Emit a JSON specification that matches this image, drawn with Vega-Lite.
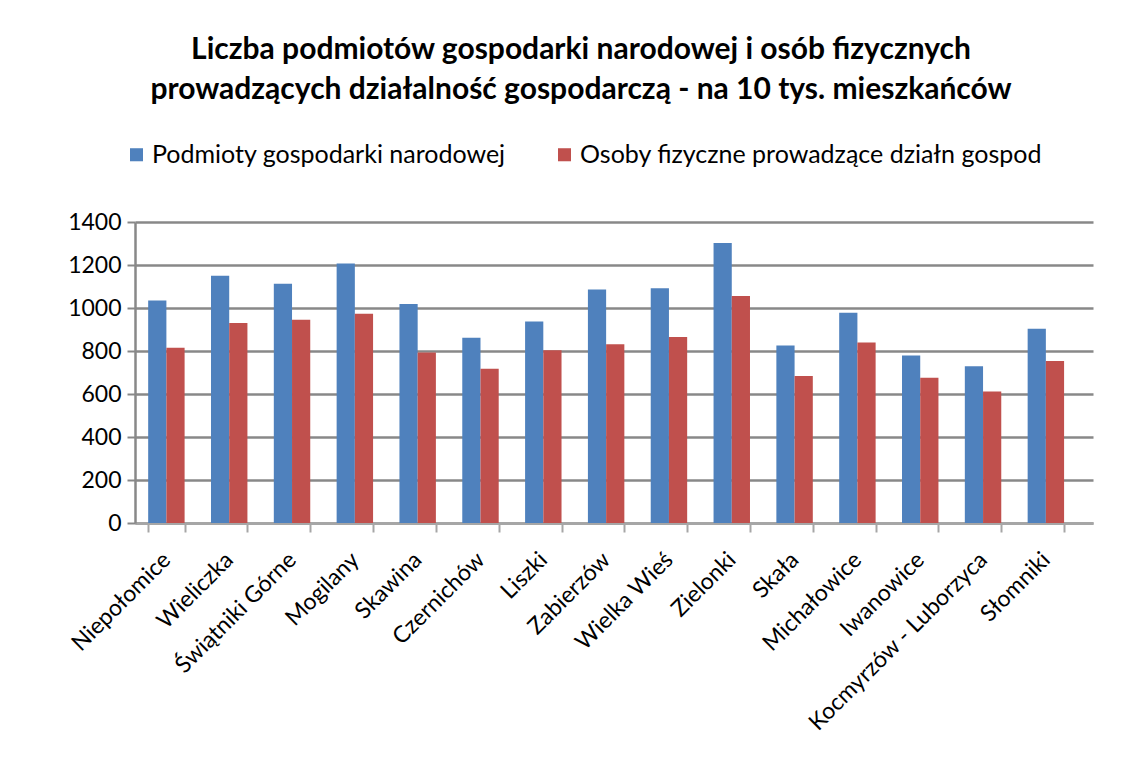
{
  "$schema": "https://vega.github.io/schema/vega-lite/v6.json",
  "autosize": "none",
  "padding": {"left": 135, "top": 222, "right": 49, "bottom": 237},
  "width": 958,
  "height": 301,
  "background": "white",
  "title": {
    "text": ["Liczba podmiotów gospodarki narodowej  i osób fizycznych", "prowadzących działalność gospodarczą - na 10 tys. mieszkańców"],
    "font": "Lato",
    "fontSize": 30,
    "fontWeight": "bold",
    "color": "#000000",
    "lineHeight": 40,
    "anchor": "middle",
    "frame": "group",
    "dx": -33,
    "offset": 37
  },
  "data": {
    "values": [
      {"gmina": "Niepołomice", "seria": "Podmioty gospodarki narodowej", "wartosc": 1035},
      {"gmina": "Niepołomice", "seria": "Osoby fizyczne prowadzące działn  gospod", "wartosc": 815},
      {"gmina": "Wieliczka", "seria": "Podmioty gospodarki narodowej", "wartosc": 1150},
      {"gmina": "Wieliczka", "seria": "Osoby fizyczne prowadzące działn  gospod", "wartosc": 930},
      {"gmina": "Świątniki Górne", "seria": "Podmioty gospodarki narodowej", "wartosc": 1113},
      {"gmina": "Świątniki Górne", "seria": "Osoby fizyczne prowadzące działn  gospod", "wartosc": 945},
      {"gmina": "Mogilany", "seria": "Podmioty gospodarki narodowej", "wartosc": 1207},
      {"gmina": "Mogilany", "seria": "Osoby fizyczne prowadzące działn  gospod", "wartosc": 973},
      {"gmina": "Skawina", "seria": "Podmioty gospodarki narodowej", "wartosc": 1019},
      {"gmina": "Skawina", "seria": "Osoby fizyczne prowadzące działn  gospod", "wartosc": 793},
      {"gmina": "Czernichów", "seria": "Podmioty gospodarki narodowej", "wartosc": 862},
      {"gmina": "Czernichów", "seria": "Osoby fizyczne prowadzące działn  gospod", "wartosc": 718},
      {"gmina": "Liszki", "seria": "Podmioty gospodarki narodowej", "wartosc": 937},
      {"gmina": "Liszki", "seria": "Osoby fizyczne prowadzące działn  gospod", "wartosc": 803},
      {"gmina": "Zabierzów", "seria": "Podmioty gospodarki narodowej", "wartosc": 1086},
      {"gmina": "Zabierzów", "seria": "Osoby fizyczne prowadzące działn  gospod", "wartosc": 831},
      {"gmina": "Wielka Wieś", "seria": "Podmioty gospodarki narodowej", "wartosc": 1092},
      {"gmina": "Wielka Wieś", "seria": "Osoby fizyczne prowadzące działn  gospod", "wartosc": 865},
      {"gmina": "Zielonki", "seria": "Podmioty gospodarki narodowej", "wartosc": 1302},
      {"gmina": "Zielonki", "seria": "Osoby fizyczne prowadzące działn  gospod", "wartosc": 1056},
      {"gmina": "Skała", "seria": "Podmioty gospodarki narodowej", "wartosc": 826},
      {"gmina": "Skała", "seria": "Osoby fizyczne prowadzące działn  gospod", "wartosc": 684},
      {"gmina": "Michałowice", "seria": "Podmioty gospodarki narodowej", "wartosc": 978},
      {"gmina": "Michałowice", "seria": "Osoby fizyczne prowadzące działn  gospod", "wartosc": 840},
      {"gmina": "Iwanowice", "seria": "Podmioty gospodarki narodowej", "wartosc": 779},
      {"gmina": "Iwanowice", "seria": "Osoby fizyczne prowadzące działn  gospod", "wartosc": 676},
      {"gmina": "Kocmyrzów - Luborzyca", "seria": "Podmioty gospodarki narodowej", "wartosc": 729},
      {"gmina": "Kocmyrzów - Luborzyca", "seria": "Osoby fizyczne prowadzące działn  gospod", "wartosc": 612},
      {"gmina": "Słomniki", "seria": "Podmioty gospodarki narodowej", "wartosc": 903},
      {"gmina": "Słomniki", "seria": "Osoby fizyczne prowadzące działn  gospod", "wartosc": 753}
    ]
  },
  "mark": {"type": "bar"},
  "encoding": {
    "x": {
      "field": "gmina",
      "type": "nominal",
      "sort": null,
      "scale": {"paddingInner": 0.42, "paddingOuter": 0.335, "align": 0.313},
      "axis": {
        "title": null,
        "labelAngle": -45,
        "labelAlign": "right",
        "labelBaseline": "middle",
        "labelFont": "Lato",
        "labelFontSize": 23,
        "labelColor": "#000000",
        "labelPadding": 24,
        "labelLimit": 400,
        "tickBand": "extent",
        "tickColor": "#A6A6A6",
        "tickSize": 9,
        "tickWidth": 2,
        "domainColor": "#A6A6A6",
        "domainWidth": 2.5,
        "grid": false
      }
    },
    "xOffset": {
      "field": "seria",
      "type": "nominal",
      "sort": ["Podmioty gospodarki narodowej", "Osoby fizyczne prowadzące działn  gospod"]
    },
    "y": {
      "field": "wartosc",
      "type": "quantitative",
      "scale": {"domain": [0, 1400], "nice": false},
      "axis": {
        "title": null,
        "values": [0, 200, 400, 600, 800, 1000, 1200, 1400],
        "format": "d",
        "labelFont": "Lato",
        "labelFontSize": 23,
        "labelColor": "#000000",
        "labelPadding": 6,
        "tickColor": "#888888",
        "tickSize": 8,
        "tickWidth": 2,
        "domainColor": "#888888",
        "domainWidth": 2.5,
        "gridColor": "#888888",
        "gridWidth": 2.5
      }
    },
    "color": {
      "field": "seria",
      "type": "nominal",
      "sort": ["Podmioty gospodarki narodowej", "Osoby fizyczne prowadzące działn  gospod"],
      "scale": {"range": ["#4F81BD", "#C0504D"]},
      "legend": {
        "title": null,
        "orient": "none",
        "direction": "horizontal",
        "legendX": -11,
        "legendY": -80,
        "symbolType": "square",
        "symbolSize": 170,
        "symbolStrokeWidth": 0,
        "labelFont": "Lato",
        "labelFontSize": 25,
        "labelColor": "#000000",
        "labelLimit": 700,
        "columnPadding": 46,
        "labelOffset": 3
      }
    }
  },
  "config": {"view": {"stroke": null}}
}
